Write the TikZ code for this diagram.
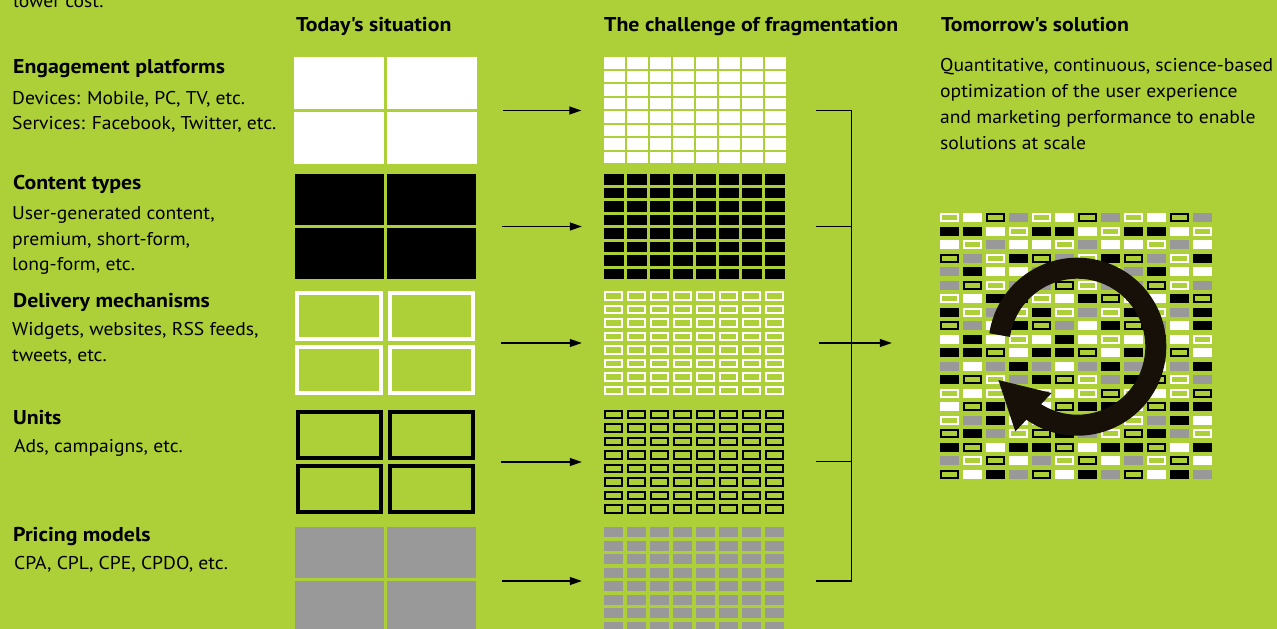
\documentclass[tikz,border=0pt]{standalone}
\usepackage{fontspec}
\setmainfont{PT Sans}
\newfontfamily\bodyf{PT Sans}[FakeStretch=1.06]
\newfontfamily\headf{PT Sans}[FakeStretch=1.09]
\usetikzlibrary{arrows.meta,fit}
\definecolor{bg}{RGB}{173,207,55}
\definecolor{grayc}{RGB}{153,153,153}
\definecolor{arrowc}{RGB}{22,16,8}
\begin{document}
\begin{tikzpicture}[x=1pt,y=-1pt,
  txt/.style={anchor=base west,inner sep=0pt,font=\bodyf\fontsize{18.5}{22}\selectfont},
  hd/.style={anchor=base west,inner sep=0pt,font=\headf\fontsize{20}{22}\selectfont\bfseries},
  conn/.style={line width=1.2pt,draw=black},
  arr/.style={conn,-{Triangle[length=12pt,width=8pt]}},
  blk/.style={inner sep=0pt,draw=none},
  cellW/.style={fill=white,draw=white,line width=2pt},
  cellB/.style={fill=black,draw=black,line width=2pt},
  cellG/.style={fill=grayc,draw=grayc,line width=2pt},
  cellO/.style={draw=white,line width=2pt},
  cellK/.style={draw=black,line width=2pt}]
\useasboundingbox[fill=bg] (0,0) rectangle (1277,629);

% ---------- texts ----------
\node[txt] (top) at (13,8) {lower cost.};
\node[hd] (h1) at (296,31) {Today's situation};
\node[hd] (h2) at (604,31) {The challenge of fragmentation};
\node[hd] (h3) at (941,31) {Tomorrow's solution};

\node[hd] (l1) at (13,73.3) {Engagement platforms};
\node[txt] (l1a) at (12,104) {Devices: Mobile, PC, TV, etc.};
\node[txt] (l1b) at (12,129) {Services: Facebook, Twitter, etc.};
\node[hd] (l2) at (13,189.3) {Content types};
\node[txt] (l2a) at (12,219.3) {User-generated content,};
\node[txt] (l2b) at (12,245) {premium, short-form,};
\node[txt] (l2c) at (12,270.7) {long-form, etc.};
\node[hd] (l3) at (13,307) {Delivery mechanisms};
\node[txt] (l3a) at (12,335.7) {Widgets, websites, RSS feeds,};
\node[txt] (l3b) at (12,361.7) {tweets, etc.};
\node[hd] (l4) at (13,424) {Units};
\node[txt] (l4a) at (14,452.7) {Ads, campaigns, etc.};
\node[hd] (l5) at (13,541.7) {Pricing models};
\node[txt] (l5a) at (14,569.3) {CPA, CPL, CPE, CPDO, etc.};

\node[txt] (r1) at (940,71) {Quantitative, continuous, science-based};
\node[txt] (r2) at (940,97) {optimization of the user experience};
\node[txt] (r3) at (940,123) {and marketing performance to enable};
\node[txt] (r4) at (940,149) {solutions at scale};

% ---------- today's situation ----------
\foreach \x/\y in {294/57,387/57,294/112,387/112}
  \fill[white] (\x,\y) rectangle ++(90,52.3);
\foreach \x/\y in {295/174,387/174,295/228,387/228}
  \fill[black] (\x,\y) rectangle ++(88.5,51);
\foreach \x/\y/\w in {295/291/88,388/291/87,295/345/88,388/345/87}
  \draw[white,line width=4pt] (\x+2,\y+2) rectangle (\x+\w-2,\y+48);
\foreach \x/\y/\w in {296/410/87,388/410/87,296/464/87,388/464/87}
  \draw[black,line width=4pt] (\x+2,\y+2) rectangle (\x+\w-2,\y+48);
\foreach \x/\y/\h in {295/527/51,387/527/51,295/581/55,387/581/55}
  \fill[grayc] (\x,\y) rectangle ++(88.5,\h);

\node[blk,fit={(294,57) (477,164)}] (t1) {};
\node[blk,fit={(295,174) (476,279)}] (t2) {};
\node[blk,fit={(295,291) (475,395)}] (t3) {};
\node[blk,fit={(296,410) (475,514)}] (t4) {};
\node[blk,fit={(295,527) (476,635)}] (t5) {};

% ---------- fragmentation ----------
\foreach \i in {0,...,7}{
  \foreach \j in {0,...,7}{
    \fill[white] (603.5+23*\i,57.3+13.5*\j) rectangle ++(21,11.5);
    \fill[black] (604+23*\i,174+13.5*\j) rectangle ++(20,10.5);
    \draw[white,line width=2pt] (605+23*\i,292+13.5*\j) rectangle ++(17,7.5);
    \draw[black,line width=2pt] (605+23*\i,410.7+13.5*\j) rectangle ++(17,7.5);
    \fill[grayc] (604+23*\i,527+13.5*\j) rectangle ++(19,10.3);
  }
}
\node[blk,fit={(603.5,57.3) (785.5,163.8)}] (f1) {};
\node[blk,fit={(604,174) (785,279)}] (f2) {};
\node[blk,fit={(604,291) (785,395)}] (f3) {};
\node[blk,fit={(604,409.7) (785,514)}] (f4) {};
\node[blk,fit={(604,527) (785,635)}] (f5) {};

% ---------- solution mosaic ----------
\foreach \row [count=\j from 0] in {
  {O,W,K,G,O,W,K,G,O,W,K,G},
  {B,B,W,O,B,B,W,O,B,B,W,O},
  {W,O,G,W,W,O,G,W,W,O,G,W},
  {K,G,O,B,K,G,O,B,K,G,O,B},
  {G,B,W,W,G,B,W,W,G,B,W,W},
  {G,K,O,G,G,K,O,G,G,K,O,G},
  {O,W,B,K,O,W,B,K,O,W,B,K},
  {B,O,G,O,B,O,G,O,B,O,G,B},
  {K,G,W,B,K,G,W,B,K,G,W,B},
  {W,B,W,O,W,B,W,O,W,B,W,O},
  {B,B,K,W,B,B,K,W,B,B,K,W},
  {G,W,G,B,G,W,G,B,G,W,G,B},
  {B,K,O,G,B,K,O,G,B,K,O,G},
  {O,W,O,K,O,W,O,K,O,W,O,K},
  {W,K,B,B,W,K,B,B,W,K,B,B},
  {O,G,B,W,O,G,B,W,O,G,B,W},
  {K,B,G,O,K,B,G,O,K,B,G,O},
  {B,K,W,B,B,K,W,B,B,K,W,B},
  {G,O,K,W,G,O,K,W,G,O,K,W},
  {K,W,B,G,K,W,B,G,K,W,B,G}}{
  \foreach \c [count=\i from 0] in \row {
    \path[cell\c] (941+23*\i,214.3+13.5*\j) rectangle ++(17,7);
  }
}
\node[blk,fit={(940,213.3) (1212,479.3)}] (sol) {};

% circular arrow
\coordinate (rc) at (1077.3,346.7);
\draw[arrowc,line width=21pt] (rc) ++(-171.5:78.5) arc[start angle=-171.5,end angle=127,radius=78.5];
\fill[arrowc] (rc) +(157.1:85.7) -- +(119:53) -- +(126.2:105) -- cycle;

% ---------- connectors ----------
\foreach \k in {1,...,5}
  \draw[arr,shorten <=26pt,shorten >=22pt] (t\k.east) -- (t\k.east -| f\k.west);

\draw[conn] ([xshift=30.5pt]f1.east) -- ++(35,0) |- ([xshift=30.5pt]f5.east);
\draw[conn] ([xshift=30.5pt]f2.east) -- ++(35,0);
\draw[conn] ([xshift=30.5pt]f4.east) -- ++(35,0);
\draw[arr,shorten >=48pt] ([xshift=33.5pt]f3.east) -- (f3.east -| sol.west);
\end{tikzpicture}
\end{document}
